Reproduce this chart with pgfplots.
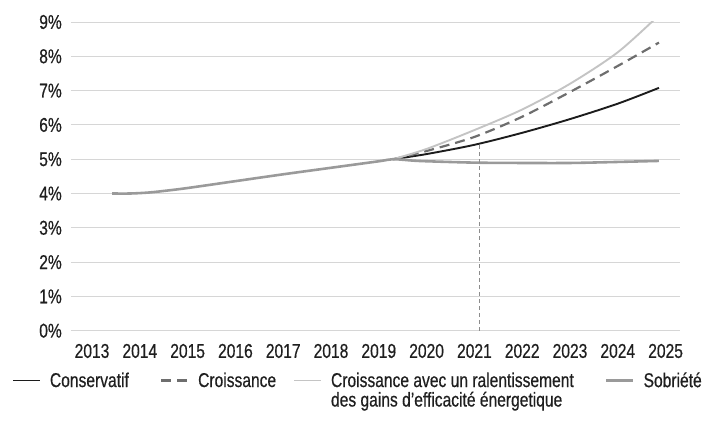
\documentclass[border=0pt]{standalone}
\usepackage{pgfplots}
\pgfplotsset{compat=1.18}
\usepackage{fontspec}
\setmainfont[FakeStretch=0.78, FakeBold=0.5]{Liberation Sans}

\definecolor{cons}{HTML}{1C1C1C}
\definecolor{crois}{HTML}{6E6E6E}
\definecolor{ralent}{HTML}{C4C4C4}
\definecolor{sobr}{HTML}{9A9A9A}
\definecolor{gridc}{HTML}{D6D6D6}
\definecolor{vline}{HTML}{8C8C8C}
\definecolor{txt}{HTML}{1F1F1F}

\begin{document}
\begin{tikzpicture}
\useasboundingbox (-71bp,-98.3bp) rectangle (645bp,330.7bp);
\begin{axis}[
  at={(0,0)}, anchor=south west,
  scale only axis, width=609bp, height=308.7bp,
  xmin=2012.56, xmax=2025.30, ymin=0, ymax=9,
  axis line style={draw=none}, tick style={draw=none},
  ymajorgrids, grid style={gridc, line width=0.9pt},
  xtick={2013,...,2025}, ytick={0,...,9},
  yticklabel={\pgfmathprintnumber{\tick}\%},
  /pgf/number format/assume math mode=true,
  x tick label style={/pgf/number format/1000 sep={}},
  ticklabel style={font=\fontsize{20bp}{22bp}\selectfont, text=txt},
  yticklabel style={anchor=east, inner sep=0pt, xshift=-9bp},
  xticklabel style={anchor=north, inner sep=0pt, yshift=-13bp},
  legend columns=4,
  legend cell align=left,
  legend image code/.code={\draw[#1] (0bp,0bp) -- (27bp,0bp);},
  legend style={draw=none, fill=none, text=txt,
    font=\fontsize{20bp}{19.5bp}\selectfont,
    at={(axis description cs:-0.102,-0.128)}, anchor=north west,
    nodes={inner sep=0pt},
    /tikz/every odd column/.append style={column sep=9bp}},
]
\addplot[cons, line width=1.9pt, smooth] coordinates {
  (2019.3,5.00) (2020,5.15) (2021,5.42) (2022,5.77) (2023,6.17) (2024,6.62) (2024.86,7.08)};
\addlegendentry{\makebox[110bp][l]{Conservatif}}
\addplot[crois, line width=2.2pt, smooth, dash pattern=on 10bp off 6bp] coordinates {
  (2019.3,5.00) (2020,5.24) (2021,5.65) (2022,6.24) (2023,6.96) (2024,7.72) (2024.86,8.40)};
\addlegendentry{\makebox[95bp][l]{Croissance}}
\addplot[ralent, line width=1.9pt, smooth] coordinates {
  (2019.3,5.00) (2020,5.30) (2021,5.85) (2022,6.45) (2023,7.20) (2024,8.12) (2024.86,9.20)};
\addlegendentry{\parbox[t]{274bp}{Croissance avec un ralentissement\\des gains d’efficacité énergetique}}
\addplot[sobr, line width=2.6pt, smooth] coordinates {
  (2013.42,4.00) (2013.8,4.00) (2014.2,4.03) (2014.6,4.09) (2015,4.16) (2016,4.36)
  (2017,4.56) (2018,4.75) (2019,4.94) (2019.3,5.00) (2019.7,4.96) (2020,4.94)
  (2021,4.90) (2022,4.89) (2023,4.89) (2024,4.92) (2024.86,4.95)};
\addlegendentry{Sobriété}
\addplot[vline, line width=0.7pt, dash pattern=on 4bp off 3bp, forget plot] coordinates {
  (2021.1,0) (2021.1,5.45)};
\end{axis}
\end{tikzpicture}
\end{document}
